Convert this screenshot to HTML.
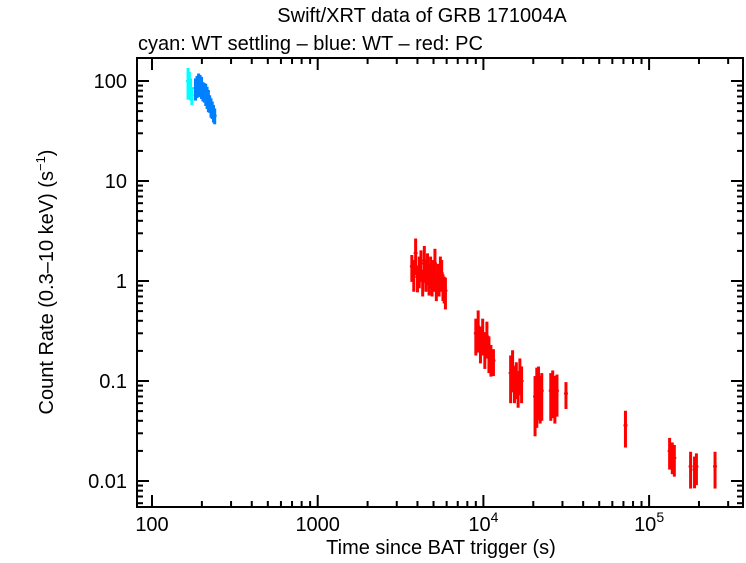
<!DOCTYPE html>
<html><head><meta charset="utf-8">
<style>
body{margin:0;background:#fff;}
svg text{font-family:"Liberation Sans",sans-serif;}
</style></head>
<body>
<svg id="chart" width="746" height="558" viewBox="0 0 746 558" xmlns="http://www.w3.org/2000/svg">
<text x="422" y="22" font-size="20" text-anchor="middle">Swift/XRT data of GRB 171004A</text>
<text x="138" y="50" font-size="20">cyan: WT settling – blue: WT – red: PC</text>
<text x="441" y="554" font-size="20" text-anchor="middle">Time since BAT trigger (s)</text>
<text transform="translate(53,282) rotate(-90)" font-size="20" text-anchor="middle">Count Rate (0.3–10 keV) (s<tspan font-size="13" dy="-8">−1</tspan><tspan dy="8">)</tspan></text>
<g id="axes"></g>
<g id="marks"></g>
</svg>
<script>
const xTicks=[100,1000,10000,100000];
const yTicks=[100,10,1,0.1,0.01];
const yTickLabels=["100","10","1","0.1","0.01"];
const cyanT=[165,168,171,174];
const cyanR=[100,95,85,72];
const cyanE=[0.35,0.3,0.25,0.2];
const blueT=[183,187,191,195,199,203,207,211,215,219,223,227,231,235,239];
const blueR=[85,90,95,92,88,80,78,75,70,65,60,55,52,48,45];
const blueE=[0.25,0.25,0.25,0.25,0.25,0.22,0.22,0.25,0.25,0.25,0.2,0.22,0.2,0.2,0.18];
const redT=[3700,3800,3900,4000,4100,4200,4300,4400,4500,4600,4700,4800,4900,5000,5100,5200,5300,5400,5500,5600,5700,5800,5900,
9000,9300,9600,9900,10200,10500,10800,11100,11500,
14600,15000,15400,15800,16200,16600,17000,
20500,21000,21500,22000,22500,
25500,26200,27000,27800,31500,
72000,133000,138000,142000,178000,188000,193000,250000];
const redR=[1.4,1.2,1.9,1.1,1.3,1.5,1.0,1.6,1.2,1.4,1.1,1.3,1.0,1.2,1.5,0.9,1.1,1.0,1.3,1.2,0.9,0.85,0.8,
0.3,0.35,0.25,0.3,0.22,0.28,0.2,0.17,0.16,
0.12,0.14,0.1,0.11,0.09,0.12,0.1,
0.07,0.085,0.09,0.075,0.08,
0.08,0.085,0.075,0.08,0.075,
0.036,0.02,0.018,0.017,0.014,0.013,0.014,0.014];
const redE=[0.3,0.35,0.4,0.3,0.35,0.35,0.3,0.4,0.35,0.35,0.35,0.35,0.3,0.35,0.4,0.3,0.35,0.3,0.35,0.35,0.3,0.3,0.35,
0.4,0.45,0.4,0.4,0.4,0.4,0.4,0.35,0.3,
0.5,0.45,0.4,0.4,0.4,0.4,0.4,
0.6,0.6,0.55,0.5,0.5,
0.5,0.5,0.5,0.45,0.3,
0.4,0.35,0.35,0.35,0.4,0.35,0.35,0.4];

const L=137,R=743,T=58,B=507;
function xs(t){return 152+165.7*Math.log10(t/100);}
function ys(r){return 281-100*Math.log10(r);}
const NS="http://www.w3.org/2000/svg";
const axes=document.getElementById('axes'),marks=document.getElementById('marks');
function mk(tag,attrs,parent){const e=document.createElementNS(NS,tag);for(const k in attrs)e.setAttribute(k,attrs[k]);parent.appendChild(e);return e;}
const frame=mk('rect',{x:L,y:T,width:R-L,height:B-T,fill:'none',stroke:'#000','stroke-width':2},axes);


for(let d=100;d<=300000;d*=10){for(let m=1;m<10;m++){const t=d*m;const x=xs(t);if(x<L||x>R)continue;const len=m===1?12:6;
const a=mk('line',{x1:x,x2:x,y1:B,y2:B-len,stroke:'#000','stroke-width':2},axes);


const b=mk('line',{x1:x,x2:x,y1:T,y2:T+len,stroke:'#000','stroke-width':2},axes);

}}
xTicks.forEach(t=>{const x=xs(t);const tx=mk('text',{x:x,y:531,'font-size':20,'text-anchor':'middle'},axes);


const e=Math.round(Math.log10(t));
if(e<=3)tx.textContent=String(t);else{tx.innerHTML='10<tspan font-size="14" dy="-9">'+e+'</tspan>';}});
for(let d=0.001;d<=1000;d*=10){for(let m=1;m<10;m++){const r=d*m;const y=ys(r);if(y<T||y>B)continue;const len=m===1?12:6;
const a=mk('line',{x1:L,x2:L+len,y1:y,y2:y,stroke:'#000','stroke-width':2},axes);


const b=mk('line',{x1:R-len,x2:R,y1:y,y2:y,stroke:'#000','stroke-width':2},axes);

}}
yTicks.forEach((r,i)=>{const tx=mk('text',{x:127,y:ys(r)+7,'font-size':20,'text-anchor':'end'},axes);


tx.textContent=yTickLabels[i];});
function series(T_,R_,E_,col,name){T_.forEach((t,i)=>{const x=xs(t),r=R_[i],e=E_[i];
const l=mk('line',{x1:x,x2:x,y1:ys(r*(1+e)),y2:ys(r*(1-e)),stroke:col,'stroke-width':3},marks);


const h=mk('line',{x1:x-2,x2:x+2,y1:ys(r),y2:ys(r),stroke:col,'stroke-width':2},marks);

});}
series(cyanT,cyanR,cyanE,'#00ffff','wt-settling-errorbar');
series(blueT,blueR,blueE,'#0080ff','wt-errorbar');
series(redT,redR,redE,'#ff0000','pc-errorbar');
</script>
</body></html>
